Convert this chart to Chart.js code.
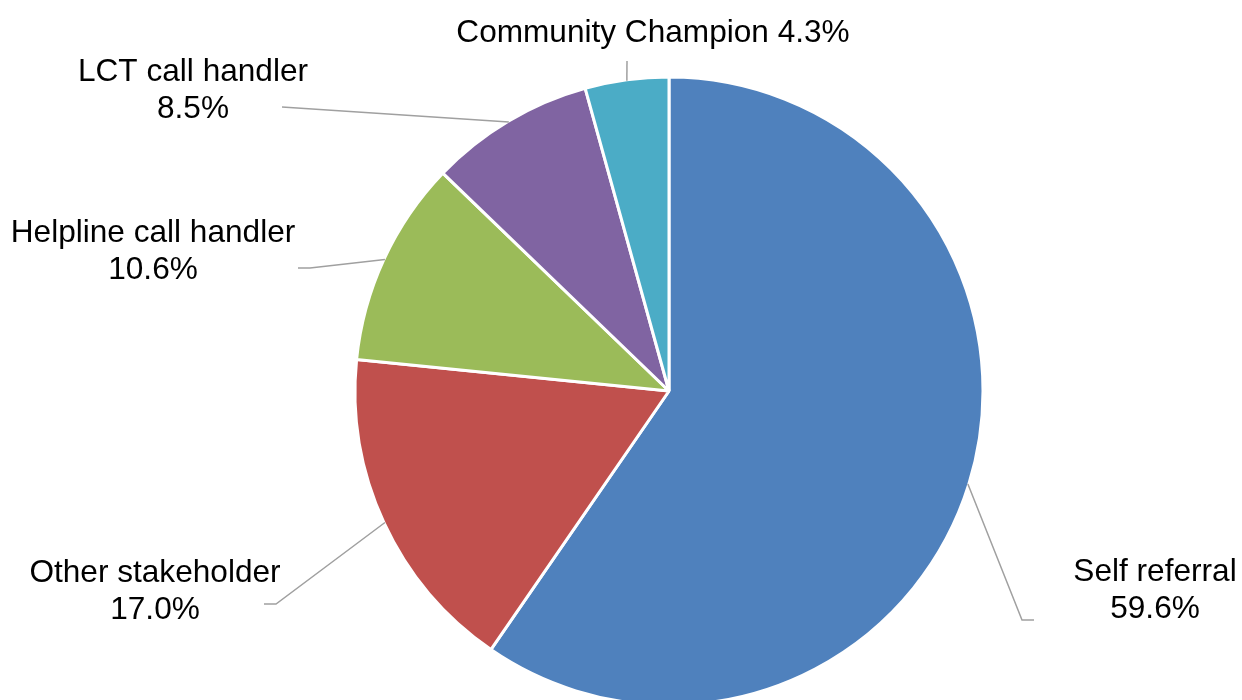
<!DOCTYPE html>
<html>
<head>
<meta charset="utf-8">
<script src="https://cdn.jsdelivr.net/npm/chart.js@4/dist/chart.umd.min.js"></script>
<style>
  html,body{margin:0;padding:0;background:#fff;}
  #wrap{width:1242px;height:700px;position:relative;}
</style>
</head>
<body>
<div id="wrap"><canvas id="pie"></canvas></div>
<script>
// ====== data ======
const sources = ["Self referral","Other stakeholder","Helpline call handler","LCT call handler","Community Champion"];
const shares  = [59.6, 17.0, 10.6, 8.5, 4.3];
const colours = ['#4F81BD','#C0504D','#9BBB59','#8064A2','#4BACC6'];

// ====== label layout (text centre / first baseline, leader end, elbow) ======
const labelAt   = [[1155,581],[155,582],[153,242],[193,81],[653,42]];
const leaderEnd = [[1034,620],[264,604],[298,268],[282,107],[627,61]];
const elbowLen  = [-12, 12, 12, 0, 0];
const oneLine   = [false,false,false,false,true];

const FONT = '31.6px "Liberation Sans", Arial, sans-serif';
const LINE_H = 36.7;

// leader lines + two-line labels drawn after the slices
const calloutLabels = {
  id: 'calloutLabels',
  afterDatasetsDraw(chart){
    const ctx = chart.ctx;
    const arcs = chart.getDatasetMeta(0).data;
    ctx.save();
    arcs.forEach((arc,i)=>{
      const {x,y,startAngle,endAngle,outerRadius} = arc.getProps(['x','y','startAngle','endAngle','outerRadius'], true);
      const mid = (startAngle+endAngle)/2;
      const ax = x + Math.cos(mid)*(outerRadius-1);
      const ay = y + Math.sin(mid)*(outerRadius-1);
      const [ex,ey] = leaderEnd[i];
      ctx.strokeStyle = '#A0A0A0';
      ctx.lineWidth = 1.5;
      ctx.beginPath();
      ctx.moveTo(ax,ay);
      if (elbowLen[i]) ctx.lineTo(ex+elbowLen[i],ey);
      ctx.lineTo(ex,ey);
      ctx.stroke();

      const pct = shares[i].toFixed(1)+'%';
      const lines = oneLine[i] ? [sources[i]+' '+pct] : [sources[i], pct];
      ctx.fillStyle = '#000';
      ctx.font = FONT;
      ctx.textAlign = 'center';
      ctx.textBaseline = 'alphabetic';
      const [lx,ly] = labelAt[i];
      lines.forEach((t,k)=>ctx.fillText(t, lx, ly + k*LINE_H));
    });
    ctx.restore();
  }
};

new Chart(document.getElementById('pie').getContext('2d'), {
  type: 'pie',
  data: {
    labels: sources,
    datasets: [{
      data: shares,
      backgroundColor: colours,
      borderColor: '#fff',
      borderWidth: 3,
      radius: 314
    }]
  },
  options: {
    responsive: true,
    maintainAspectRatio: false,
    animation: false,
    layout: { padding: { left: 96, right: 0, top: 82, bottom: 0 } },
    plugins: {
      legend: { display: false },
      tooltip: { enabled: false }
    }
  },
  plugins: [calloutLabels]
});
</script>
</body>
</html>
